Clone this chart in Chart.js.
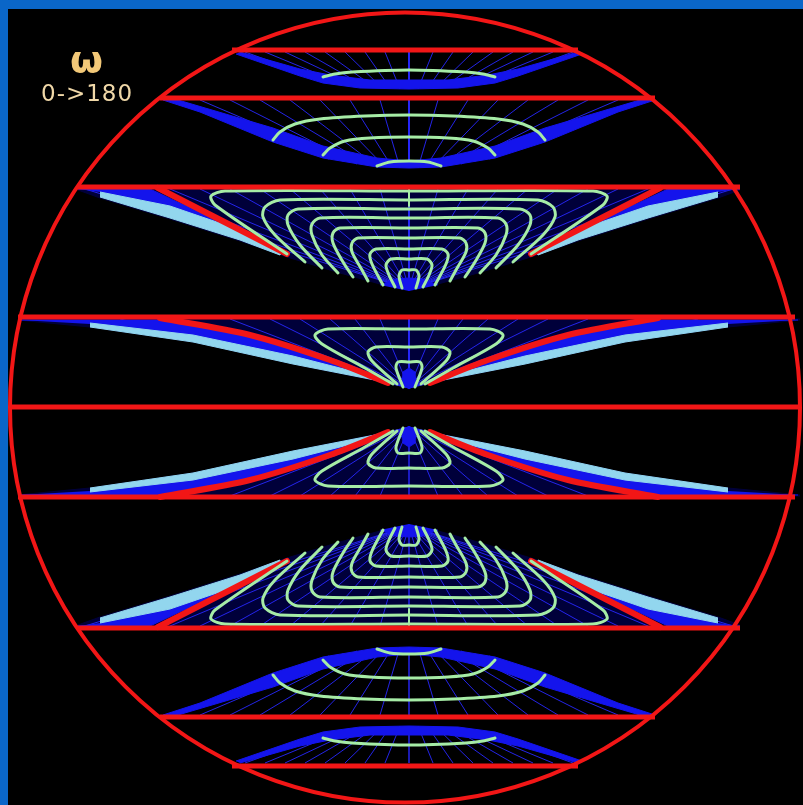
<!DOCTYPE html>
<html><head><meta charset="utf-8">
<script src="https://cdn.jsdelivr.net/npm/chart.js"></script>
<style>
html,body{margin:0;padding:0;background:#000;}
#wrap{position:relative;width:803px;height:805px;background:#000;overflow:hidden;}
#bl{position:absolute;left:0;top:0;width:8px;height:805px;background:#0a66c8;}
#bt{position:absolute;left:0;top:0;width:803px;height:9px;background:#0a66c8;}
#cv{position:absolute;left:8px;top:9px;}
.lbl{position:absolute;font-family:"DejaVu Sans",sans-serif;white-space:nowrap;}
#omega{left:70px;top:40px;font-size:38px;line-height:38px;font-weight:bold;color:#f2c878;}
#range{left:41px;top:82px;font-size:23px;line-height:23px;color:#f0d8a8;letter-spacing:1px;}
</style></head><body>
<div id="wrap"><div id="bl"></div><div id="bt"></div>
<canvas id="cv" width="795" height="796"></canvas>
<div class="lbl" id="omega">ω</div>
<div class="lbl" id="range">0-&gt;180</div>
</div>
<script>
// ---- data (image pixel units) ----
const mirrorXSum = 818;   // x + x' for left/right symmetry
const mirrorYSum = 815;   // y + y' for top/bottom symmetry

const circleCenter = [405, 407.5];
const circleRadius = 395;

const chordY  = [50, 98, 187, 317, 407, 497, 628, 717, 766];
const chordX0 = [232, 160, 78, 18, 10, 18, 78, 160, 232];
const chordX1 = [578, 655, 740, 795, 800, 795, 740, 655, 578];

// band 1 (upper-left quadrant)
const band1Strip = [[240,52],[300,69],[330,75],[370,80],[409,80],[409,89],[360,88],[323,83],[300,76],[236,54]];
const band1Arcs = [[[323,77],[335,74],[352,72],[409,70]]];
const band1FanTop = [245,265,285,305,325,345,365,385,409];
const band1FanTopY = 52;
const band1FanEnd = [[331,83],[345,85],[357,86],[366,87],[374,87],[382,88],[390,88],[400,89],[409,89]];

// band 2
const band2Strip = [[178,100],[273,128],[323,146],[377,158],[409,161],[409,168],[377,167],[323,158],[273,142],[200,112],[163,100]];
const band2Arcs = [
  [[273,140],[280,132],[295,124],[320,119],[365,116],[409,115]],
  [[323,155],[330,148],[345,141],[370,138],[409,137]],
  [[377,166],[390,162],[409,161]]
];
const band2FanTop = [175,200,230,260,290,320,350,380,409];
const band2FanTopY = 100;
const band2FanEnd = [[329,159],[343,161],[357,164],[368,165],[378,167],[385,167],[392,167],[400,168],[409,168]];

// band 3
const band3Shade = [[78,189],[409,189],[409,290],[380,284],[340,273],[287,257],[240,241],[170,219],[100,198],[78,190]];
const band3Strip = [[78,189],[150,189],[287,254],[278,252],[240,231],[170,206],[100,192]];
const band3Wedge = [[100,192],[170,206],[240,230],[280,251],[280,255],[240,240],[170,218],[100,197]];
const band3Ray = [[158,188],[287,254]];
const band3Contours = [
  [[287,254],[215,205],[211,196],[225,191],[409,191]],
  [[305,262],[275,235],[263,217],[265,207],[280,200],[409,200]],
  [[322,268],[300,245],[288,225],[288,215],[298,209],[409,209]],
  [[338,273],[322,255],[312,235],[312,224],[320,218],[409,218]],
  [[353,277],[343,262],[333,243],[333,233],[340,228],[409,228]],
  [[368,281],[362,270],[352,252],[352,243],[358,238],[409,238]],
  [[383,285],[372,264],[370,254],[376,249],[409,249]],
  [[395,287],[389,275],[386,265],[391,259],[409,259]],
  [[402,288],[399,276],[402,270],[409,270]]
];
const band3FanTop = [85,110,140,170,200,230,260,290,320,350,380,409];
const band3FanTopY = 189;
const band3FanEnd = [409,289];
const band3Tip = [[380,285],[395,279],[409,278],[409,291]];

// band 4
const band4Shade = [[18,319],[409,319],[409,388],[378,381],[293,364],[193,342],[90,327],[18,320]];
const band4Strip = [[20,320],[160,320],[250,336],[330,361],[388,384],[375,378],[293,357],[193,336],[90,324]];
const band4Wedge = [[90,323],[193,335],[293,356],[375,377],[380,381],[293,364],[193,342],[90,327]];
const band4Ray = [[160,318],[250,335],[330,360],[388,383]];
const band4Contours = [
  [[393,384],[365,368],[322,344],[315,335],[328,329],[409,329]],
  [[397,384],[372,361],[368,352],[376,347],[409,347]],
  [[403,387],[396,368],[398,362],[409,362]]
];
const band4FanTop = [120,180,230,270,300,330,355,380,409];
const band4FanTopY = 319;
const band4FanEnd = [409,388];
const band4Tip = [[402,386],[403,372],[409,368],[409,389]];

// ---- styles ----
const C = {
  red: '#f21616', green: '#a6eca6', light: '#92d6ee', blue: '#1414ec',
  fan: 'rgba(40,40,255,0.9)', shade: '#00003a'
};

// ---- helpers ----
const mx = a => a.map(([x,y]) => [mirrorXSum - x, y]);
const my = a => a.map(([x,y]) => [x, mirrorYSum - y]);
const quad = a => [a, mx(a), my(a), my(mx(a))];
const full = a => a.concat(mx(a).reverse().slice(1));
const xy = a => a.map(([x,y]) => ({x, y}));
const gap = () => ({x: null, y: null});

const layers = [];
function poly(a, color){ layers.push({data: xy(a), showLine:true, fill:'shape', backgroundColor:color, borderColor:color, borderWidth:1, pointRadius:0, tension:0}); }
function curve(a, color, w, t){ layers.push({data: xy(a), showLine:true, fill:false, borderColor:color, borderWidth:w, pointRadius:0, tension:t, borderCapStyle:'round', borderJoinStyle:'round'}); }

[band3Shade, band4Shade].forEach(s => quad(s).forEach(q => poly(q, C.shade)));
const fanSegs = [];
function addFan(tops, topY, ends){
  tops.forEach((x0, i) => {
    const e = Array.isArray(ends[0]) ? ends[i] : ends;
    quad([[x0, topY], e]).forEach(q => { fanSegs.push(...xy(q), gap()); });
  });
}
addFan(band1FanTop, band1FanTopY, band1FanEnd);
addFan(band2FanTop, band2FanTopY, band2FanEnd);
addFan(band3FanTop, band3FanTopY, band3FanEnd);
addFan(band4FanTop, band4FanTopY, band4FanEnd);
layers.push({data: fanSegs, showLine:true, fill:false, borderColor:C.fan, borderWidth:1, pointRadius:0, tension:0, spanGaps:false});
[band1Strip, band2Strip, band3Strip, band4Strip, band3Tip, band4Tip].forEach(s => quad(s).forEach(q => poly(q, C.blue)));
[band3Wedge, band4Wedge].forEach(s => quad(s).forEach(q => poly(q, C.light)));
quad(band3Ray).forEach(q => curve(q, C.red, 6, 0));
quad(band4Ray).forEach(q => curve(q, C.red, 6, 0.3));
[...band1Arcs, ...band2Arcs, ...band3Contours, ...band4Contours].forEach(c => {
  const f = full(c);
  curve(f, C.green, 3, 0.3);
  curve(my(f), C.green, 3, 0.3);
});
curve([[409,188],[409,206]], C.green, 2, 0);
curve(my([[409,188],[409,206]]), C.green, 2, 0);
const chordPts = [];
chordY.forEach((y, i) => { chordPts.push({x: chordX0[i], y}, {x: chordX1[i], y}, gap()); });
layers.push({data: chordPts, showLine:true, fill:false, borderColor:C.red, borderWidth:5, pointRadius:0, tension:0, spanGaps:false, borderCapStyle:'butt'});
layers.push({data:[{x:circleCenter[0], y:circleCenter[1]}], showLine:false, pointRadius:circleRadius, pointHoverRadius:circleRadius, pointBorderWidth:4, pointBorderColor:C.red, pointBackgroundColor:'rgba(0,0,0,0)'});

const N = layers.length;
layers.forEach((d, i) => { d.order = N - i; });

new Chart(document.getElementById('cv'), {
  type: 'scatter',
  data: { datasets: layers },
  options: {
    responsive:false, animation:false, events:[],
    layout:{padding:0, autoPadding:false},
    plugins:{legend:{display:false}, tooltip:{enabled:false}, title:{display:false}},
    scales:{
      x:{type:'linear', min:8, max:803, display:false},
      y:{type:'linear', min:9, max:805, reverse:true, display:false}
    }
  }
});
</script>
</body></html>
